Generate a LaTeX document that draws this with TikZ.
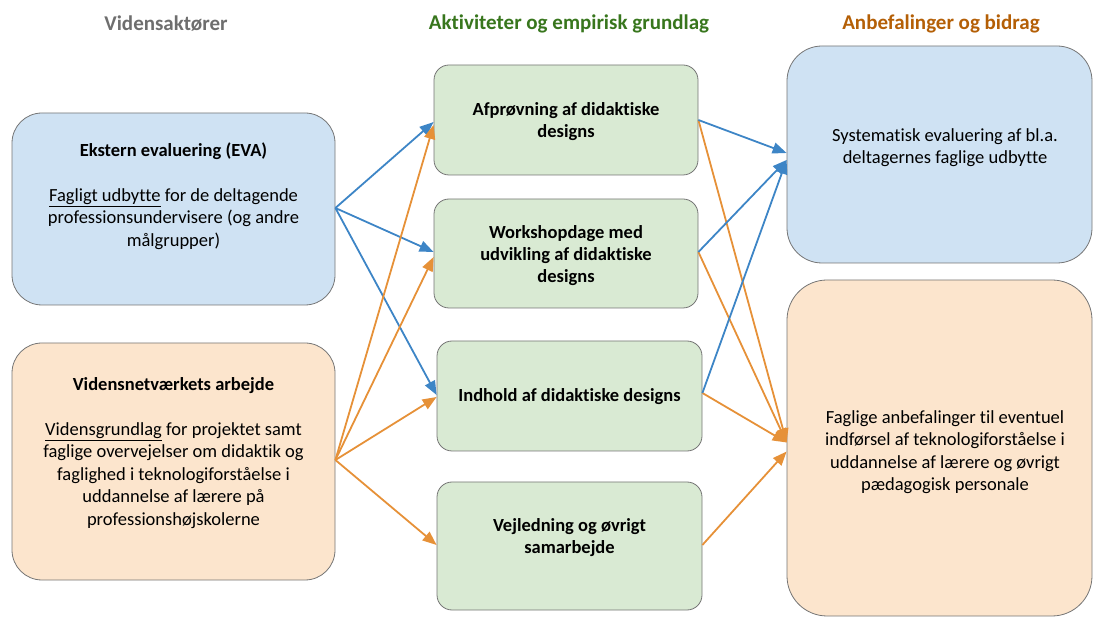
\documentclass[tikz,border=0pt]{standalone}
\usepackage{fontspec}
\setmainfont[RawFeature={-liga;-clig;-dlig;-calt;-rlig}]{Carlito}
\usetikzlibrary{%
	arrows.meta,%
	calc%
}

\definecolor{boxgray}{HTML}{757575}
\definecolor{boxblue}{HTML}{CFE2F3}
\definecolor{boxorange}{HTML}{FCE5CD}
\definecolor{boxgreen}{HTML}{D9EAD3}
\definecolor{lineblue}{HTML}{3D85C6}
\definecolor{lineorange}{HTML}{E69138}
\definecolor{titlegray}{HTML}{6E6E6E}
\definecolor{titlegreen}{HTML}{38761D}
\definecolor{titleorange}{HTML}{B45F06}

\tikzset{
	box/.style={draw=boxgray, line width=0.8pt, rounded corners=#1},
	txt/.style={align=center, text=black, font=\fontsize{18.5}{22.5}\selectfont, inner sep=0pt},
	coltitle/.style={font=\fontsize{21}{25}\selectfont\bfseries, inner sep=0pt},
	bluearrow/.style={->, draw=lineblue, line width=1.8pt},
	orangearrow/.style={->, draw=lineorange, line width=1.8pt},
	>={Triangle[length=14pt,width=11pt]}
}

\begin{document}
\begin{tikzpicture}[x=1pt,y=-1pt]
		\useasboundingbox (0,0) rectangle (1093,617);
		
		% Column titles
		\node[coltitle, text=titlegray] (tvid) at (166,24) {Vidensaktører};
		\node[coltitle, text=titlegreen] (takt) at (569,24) {Aktiviteter og empirisk grundlag};
		\node[coltitle, text=titleorange] (tanb) at (941,24) {Anbefalinger og bidrag};
		
		% Left column
		\node[box=30pt, fill=boxblue, minimum width=323pt, minimum height=192pt] (eva) at (173.5,209) {};
		\node[txt] (evatxt) at (173.5,196) {\textbf{Ekstern evaluering (EVA)}\\[22.5pt]
			\underline{Fagligt udbytte} for de deltagende\\
			professionsundervisere (og andre\\
			målgrupper)};
		\node[box=30pt, fill=boxorange, minimum width=323pt, minimum height=237pt] (vnet) at (173.5,461.5) {};
		\node[txt] (vnettxt) at (173.5,453) {\textbf{Vidensnetværkets arbejde}\\[22.5pt]
			\underline{Vidensgrundlag} for projektet samt\\
			faglige overvejelser om didaktik og\\
			faglighed i teknologiforståelse i\\
			uddannelse af lærere på\\
			professionshøjskolerne};
		
		% Middle column
		\node[box=15pt, fill=boxgreen, minimum width=264pt, minimum height=110pt] (afp) at (566,120) {};
		\node[txt, font=\fontsize{18.5}{22}\selectfont\bfseries] (afptxt) at (566,122) {Afprøvning af didaktiske\\designs};
		\node[box=15pt, fill=boxgreen, minimum width=264pt, minimum height=109pt] (wsd) at (566,253.5) {};
		\node[txt, font=\fontsize{18.5}{22}\selectfont\bfseries] (wsdtxt) at (566,255.5) {Workshopdage med\\udvikling af didaktiske\\designs};
		\node[box=15pt, fill=boxgreen, minimum width=265pt, minimum height=110pt] (ind) at (569.5,396) {};
		\node[txt, font=\fontsize{18.5}{22}\selectfont\bfseries] (indtxt) at (569.5,397) {Indhold af didaktiske designs};
		\node[box=15pt, fill=boxgreen, minimum width=265pt, minimum height=128pt] (vej) at (569.5,546) {};
		\node[txt, font=\fontsize{18.5}{22}\selectfont\bfseries] (vejtxt) at (569.5,537.5) {Vejledning og øvrigt\\samarbejde};
		
		% Right column
		\node[box=35pt, fill=boxblue, minimum width=305pt, minimum height=217pt] (sys) at (939.5,154.5) {};
		\node[txt] (systxt) at (945,147.5) {Systematisk evaluering af bl.a.\\deltagernes faglige udbytte};
		\node[box=40pt, fill=boxorange, minimum width=305pt, minimum height=336pt] (anb) at (939.5,448) {};
		\node[txt] (anbtxt) at (945,452) {Faglige anbefalinger til eventuel\\
			indførsel af teknologiforståelse i\\
			uddannelse af lærere og øvrigt\\
			pædagogisk personale};
		
		% Arrows into the activities
		\draw[bluearrow] ([yshift=1pt]eva.east) -- ([yshift=-2pt]afp.west);
		\draw[bluearrow] ([yshift=1pt]eva.east) -- ([yshift=1.5pt]wsd.west);
		\draw[bluearrow] ([yshift=1pt]eva.east) -- ([yshift=1pt]ind.west);
		\draw[orangearrow] ([yshift=1.5pt]vnet.east) -- ([yshift=-5pt]afp.west);
		\draw[orangearrow] ([yshift=1.5pt]vnet.east) -- ([yshift=-3.5pt]wsd.west);
		\draw[orangearrow] ([yshift=1.5pt]vnet.east) -- ([yshift=-1pt]ind.west);
		\draw[orangearrow] ([yshift=1.5pt]vnet.east) -- ([yshift=1pt]vej.west);
		
		% Arrows into the results
		\draw[orangearrow] (afp.east) -- ([yshift=5.5pt]anb.west);
		\draw[orangearrow] ([yshift=1.5pt]wsd.east) -- ([yshift=5.5pt]anb.west);
		\draw[orangearrow] ([yshift=3pt]ind.east) -- ([yshift=5.5pt]anb.west);
		\draw[orangearrow] ([yshift=1pt]vej.east) -- ([yshift=-3.5pt]anb.west);
		\draw[bluearrow] (afp.east) -- ([yshift=1.5pt]sys.west);
		\draw[bluearrow] ([yshift=1.5pt]wsd.east) -- ([yshift=-5.5pt]sys.west);
		\draw[bluearrow] ([yshift=3pt]ind.east) -- ([yshift=-5.5pt]sys.west);
	\end{tikzpicture}
\end{document}
